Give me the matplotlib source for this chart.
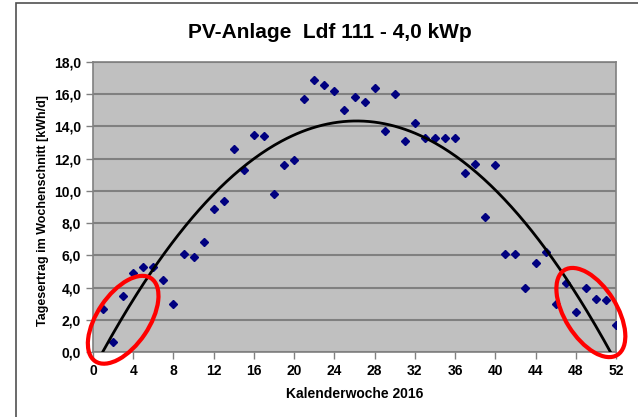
import numpy as np
import matplotlib.pyplot as plt
from matplotlib.patches import Ellipse, Rectangle
from matplotlib.transforms import IdentityTransform

plt.rcParams['font.family'] = ['Liberation Sans', 'DejaVu Sans']
plt.rcParams['font.weight'] = 'bold'

TITLE = "PV-Anlage  Ldf 111 - 4,0 kWp"
X_LABEL = "Kalenderwoche 2016"
Y_LABEL = "Tagesertrag im Wochenschnitt [kWh/d]"

weeks = list(range(1, 53))
ertrag = [2.7, 0.6, 3.5, 4.9, 5.3, 5.3, 4.5, 3.0, 6.1, 5.9,
          6.8, 8.9, 9.4, 12.6, 11.3, 13.5, 13.4, 9.8, 11.6, 11.9,
          15.7, 16.9, 16.6, 16.2, 15.0, 15.8, 15.5, 16.4, 13.7, 16.0,
          13.1, 14.2, 13.3, 13.3, 13.3, 13.3, 11.1, 11.7, 8.4, 11.6,
          6.1, 6.1, 4.0, 5.5, 6.2, 3.0, 4.3, 2.5, 4.0, 3.3,
          3.2, 1.7]

# markierte Bereiche (Mitte in Daten, Drehwinkel)
circles = [(3.0, 2.0, 56), (49.5, 2.45, 122)]

W, H = 638, 417
fig = plt.figure(figsize=(W / 100, H / 100), dpi=100)
fig.patch.set_facecolor("white")

# Rahmen des Diagrammbereichs
fig.patches.append(Rectangle((16 / W, -0.1), 1.2, (H - 3) / H + 0.1,
                             transform=fig.transFigure, fill=False,
                             edgecolor="#505050", linewidth=1.2))

ax = fig.add_axes([93 / W, (H - 352) / H, 523 / W, 290 / H])
ax.set_facecolor("#C0C0C0")
for s in ax.spines.values():
    s.set_color("#808080")
    s.set_linewidth(1.2)

ax.set_xlim(0, 52)
ax.set_ylim(0, 18)
ax.set_xticks(range(0, 53, 4))
ax.set_yticks(range(0, 19, 2))
ax.set_yticklabels([f"{v},0" for v in range(0, 19, 2)])
ax.tick_params(axis="both", direction="out", length=5, width=1,
               color="#808080", labelsize=10)
ax.yaxis.grid(True, color="#808080", linewidth=1.5)
ax.set_axisbelow(True)

ax.plot(weeks, ertrag, linestyle="none", marker="D", markersize=4.5,
        color="#000080", zorder=3)

# polynomischer Trend 2. Ordnung
coef = np.polyfit(weeks, ertrag, 2)
xt = np.linspace(1, 52, 300)
ax.plot(xt, np.polyval(coef, xt), color="black", linewidth=2, zorder=4)

fig.canvas.draw()
for cx, cy, ang in circles:
    px, py = ax.transData.transform((cx, cy))
    e = Ellipse((px, py), 100, 52, angle=ang, transform=IdentityTransform(),
                fill=False, edgecolor="#FF0000", linewidth=3, clip_on=False,
                zorder=5)
    fig.patches.append(e)

fig.text(330 / W, 1 - 33 / H, TITLE, ha="center", va="center",
         fontsize=15, fontweight="bold")
fig.text(355 / W, 1 - 394 / H, X_LABEL, ha="center", va="center",
         fontsize=10, fontweight="bold")
fig.text(43 / W, 1 - 211 / H, Y_LABEL, ha="center", va="center",
         rotation=90, fontsize=9, fontweight="bold")

fig.savefig("out.png", dpi=100)
